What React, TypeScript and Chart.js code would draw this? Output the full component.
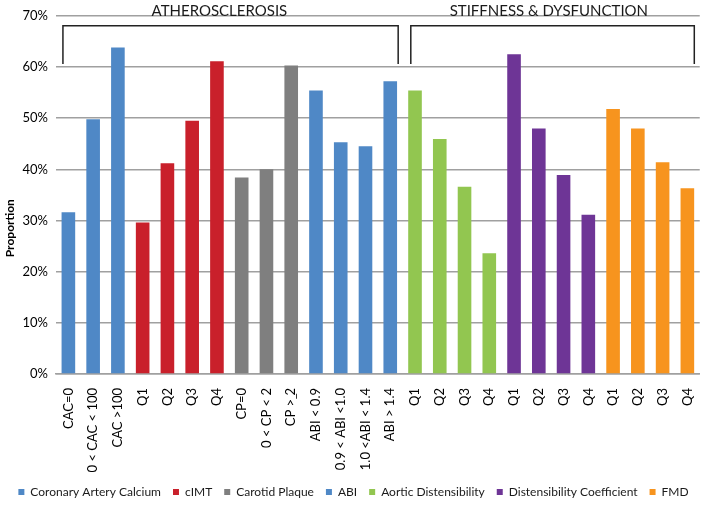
import React, { useEffect, useRef } from "react";
import { Chart, registerables } from "chart.js";

Chart.register(...registerables);

const categories = [
  "CAC=0", "0 < CAC < 100", "CAC >100",
  "Q1", "Q2", "Q3", "Q4",
  "CP=0", "0 < CP < 2", "CP >\u0332 2",
  "ABI < 0.9", "0.9 < ABI <1.0", "1.0 <ABI < 1.4", "ABI > 1.4",
  "Q1", "Q2", "Q3", "Q4",
  "Q1", "Q2", "Q3", "Q4",
  "Q1", "Q2", "Q3", "Q4",
];

const values = [
  31.6, 49.8, 63.8,
  29.6, 41.2, 49.5, 61.1,
  38.4, 40.0, 60.3,
  55.4, 45.3, 44.5, 57.2,
  55.4, 45.9, 36.6, 23.6,
  62.5, 48.0, 38.9, 31.1,
  51.8, 48.0, 41.4, 36.3,
];

const groupNames = [
  "Coronary Artery Calcium", "cIMT", "Carotid Plaque", "ABI",
  "Aortic Distensibility", "Distensibility Coefficient", "FMD",
];
const groupSizes = [3, 4, 3, 4, 4, 4, 4];
const groupColors = ["#4f88c6", "#c9202b", "#7f7f7f", "#4f88c6", "#92c650", "#6e3596", "#f7941e"];

const sectionTitles = ["ATHEROSCLEROSIS", "STIFFNESS & DYSFUNCTION"];
const sectionRanges = [[0, 13], [14, 25]];

const yTicks = [0, 10, 20, 30, 40, 50, 60, 70];
const yTitle = "Proportion";

const FONT = "Lato, 'Open Sans', sans-serif";

export default function App() {
  const ref = useRef<HTMLCanvasElement | null>(null);
  useEffect(() => {
    if (!ref.current) return;
    const barColors: string[] = [];
    groupSizes.forEach((n, gi) => {
      for (let i = 0; i < n; i++) barColors.push(groupColors[gi]);
    });
    const bracketPlugin = {
      id: "brackets",
      afterDraw(chart: any) {
        const { ctx, scales } = chart;
        const x = scales.x;
        const y = scales.y;
        const w = x.getPixelForValue(1) - x.getPixelForValue(0);
        const yTop = y.getPixelForValue(68.05);
        const yBot = y.getPixelForValue(60.6);
        const ends = [
          [-0.22, 0.32],
          [-0.17, 0.28],
        ];
        const textShift = [-0.45, -0.15];
        ctx.save();
        ctx.strokeStyle = "#222";
        ctx.lineWidth = 1.5;
        sectionRanges.forEach((r, i) => {
          const x0 = x.getPixelForValue(r[0]) + ends[i][0] * w;
          const x1 = x.getPixelForValue(r[1]) + ends[i][1] * w;
          ctx.beginPath();
          ctx.moveTo(x0, yBot);
          ctx.lineTo(x0, yTop);
          ctx.lineTo(x1, yTop);
          ctx.lineTo(x1, yBot);
          ctx.stroke();
          ctx.fillStyle = "#1a1a1a";
          ctx.font = "15px " + FONT;
          ctx.textAlign = "center";
          ctx.textBaseline = "alphabetic";
          ctx.fillText(sectionTitles[i], (x0 + x1) / 2 + textShift[i] * w, y.getPixelForValue(70) + 0.5);
        });
        // y axis title
        ctx.save();
        ctx.translate(10, y.getPixelForValue(28.5));
        ctx.rotate(-Math.PI / 2);
        ctx.font = "bold 12px " + FONT;
        ctx.fillStyle = "#000";
        ctx.textAlign = "center";
        ctx.textBaseline = "middle";
        ctx.fillText(yTitle, 0, 0);
        ctx.restore();
        ctx.restore();
      },
    };
    const chart = new Chart(ref.current, {
      type: "bar",
      data: {
        labels: categories,
        datasets: [
          {
            data: values,
            backgroundColor: barColors,
            borderWidth: 0,
            barPercentage: 0.55,
            categoryPercentage: 1,
          },
        ],
      },
      plugins: [bracketPlugin],
      options: {
        responsive: false,
        animation: false,
        layout: { padding: { top: 14, right: 2, left: 0, bottom: 2 } },
        plugins: {
          tooltip: { enabled: false },
          legend: {
            position: "bottom",
            onClick: () => {},
            labels: {
              boxWidth: 6,
              boxHeight: 6,
              padding: 12,
              color: "#1a1a1a",
              font: { size: 12, family: FONT },
              generateLabels: () =>
                groupNames.map((n, i) => ({
                  text: n,
                  fillStyle: groupColors[i],
                  strokeStyle: groupColors[i],
                  lineWidth: 0,
                  hidden: false,
                  datasetIndex: 0,
                  fontColor: "#1a1a1a",
                })),
            },
          },
        },
        scales: {
          x: {
            afterFit: (s: any) => {
              s.height = 100;
            },
            grid: { display: false },
            border: { color: "#a0a0a0", width: 1.5 },
            ticks: {
              autoSkip: false,
              minRotation: 90,
              maxRotation: 90,
              color: "#000",
              font: { size: 13, family: FONT },
              padding: 6,
            },
          },
          y: {
            min: 0,
            max: 70,
            afterFit: (s: any) => {
              s.width = 56;
            },
            afterBuildTicks: (s: any) => {
              s.ticks = yTicks.map((v) => ({ value: v }));
            },
            grid: { color: "#a0a0a0", lineWidth: 1.5, drawTicks: false },
            border: { display: false },
            ticks: {
              callback: (v: any) => v + "%",
              color: "#000",
              font: { size: 13, family: FONT },
              padding: 8,
            },
          },
        },
      },
    });
    return () => chart.destroy();
  }, []);
  return (
    <div style={{ position: "fixed", left: 0, top: 0, width: 709, height: 510, background: "#fff" }}>
      <canvas ref={ref} width={709} height={510} />
    </div>
  );
}
